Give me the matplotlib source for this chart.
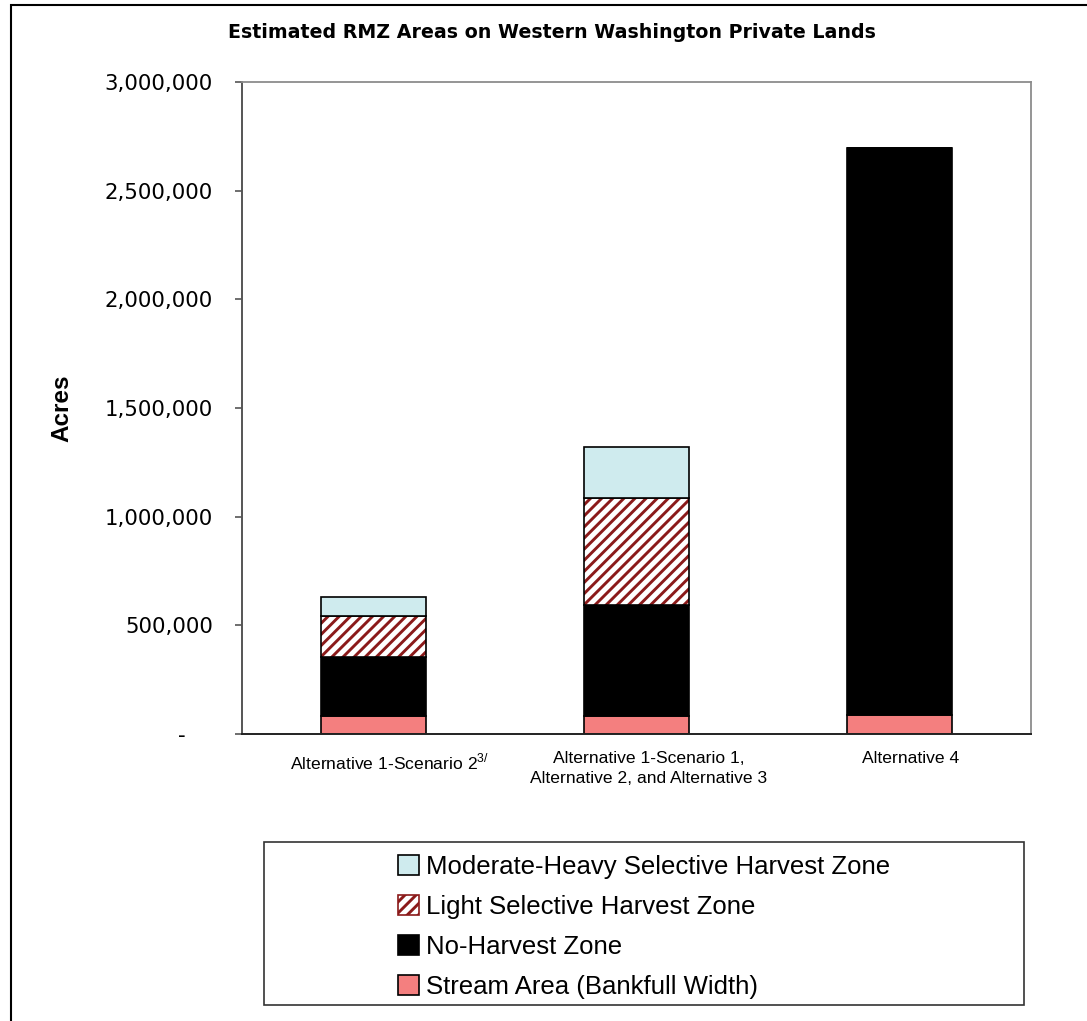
import matplotlib
matplotlib.use("Agg")
import matplotlib.pyplot as plt
from matplotlib.patches import Rectangle, Patch
from matplotlib.transforms import ScaledTranslation
import numpy as np

# Estimated riparian management zone areas (acres) by alternative
categories = [
    r"Alternative 1-Scenario 2$^{\mathrm{3/}}$",
    "Alternative 1-Scenario 1,\nAlternative 2, and Alternative 3",
    "Alternative 4",
]
stream_area = [83000, 83000, 87000]
no_harvest = [270000, 509000, 2608000]
light_selective = [191000, 495000, 0]
moderate_heavy = [88000, 232000, 0]

y_ticks = [0, 500000, 1000000, 1500000, 2000000, 2500000, 3000000]
y_tick_labels = ["-    ", "500,000", "1,000,000", "1,500,000", "2,000,000",
                 "2,500,000", "3,000,000"]

plt.rcParams["mathtext.fontset"] = "custom"
plt.rcParams["mathtext.rm"] = "Liberation Sans"
plt.rcParams["hatch.linewidth"] = 2.1

W, H = 1087, 1021
fig = plt.figure(figsize=(W / 100, H / 100), dpi=100)
fig.patch.set_facecolor("white")

ax = fig.add_axes([242 / W, 1 - 734 / H, (1031 - 242) / W, (734 - 82) / H])

x = np.arange(len(categories))
bw = 0.40
edge = dict(edgecolor="black", linewidth=1.2)

s_col = "#F47F7F"
n_col = "#000000"
m_col = "#CFEBEE"
hatch_col = "#8B1A1A"
hatch_pat = "///"

b0 = np.zeros(len(categories))
ax.bar(x, stream_area, bw, bottom=b0, color=s_col, **edge)
b1 = b0 + np.array(stream_area)
ax.bar(x, no_harvest, bw, bottom=b1, color=n_col, **edge)
b2 = b1 + np.array(no_harvest)
# hatched layer: stripes in dark red, then a black outline on top
ax.bar(x, light_selective, bw, bottom=b2, facecolor="white",
       edgecolor=hatch_col, hatch=hatch_pat, linewidth=0)
ax.bar(x, light_selective, bw, bottom=b2, fill=False, **edge)
b3 = b2 + np.array(light_selective)
ax.bar(x, moderate_heavy, bw, bottom=b3, color=m_col, **edge)

ax.set_xlim(-0.5, len(categories) - 0.5)
ax.set_ylim(0, 3000000)
ax.set_yticks(y_ticks)
ax.set_yticklabels(y_tick_labels, fontfamily="DejaVu Sans", fontsize=15.3)
ax.tick_params(axis="y", length=5, width=1.2, color="#555555", pad=16)
ax.set_xticks(x)
ax.set_xticklabels(categories, fontfamily="Liberation Sans", fontsize=12.6,
                   linespacing=1.4)
ax.tick_params(axis="x", length=0, pad=12.5)
for lab, dx in zip(ax.get_xticklabels(), [16, 12, 11]):
    lab.set_transform(lab.get_transform() +
                      ScaledTranslation(dx / 100, 0, fig.dpi_scale_trans))

for side in ["top", "right"]:
    ax.spines[side].set_color("#8C8C8C")
    ax.spines[side].set_linewidth(1.3)
ax.spines["left"].set_color("#555555")
ax.spines["left"].set_linewidth(1.4)
ax.spines["bottom"].set_color("#222222")
ax.spines["bottom"].set_linewidth(1.4)

ax.set_ylabel("Acres", fontfamily="Liberation Sans", fontweight="bold",
              fontsize=17.5)
ax.yaxis.set_label_coords(73 / W, 1 - 408 / H, transform=fig.transFigure)

fig.text(552 / W, 1 - 33 / H,
         "Estimated RMZ Areas on Western Washington Private Lands",
         ha="center", va="center", fontfamily="DejaVu Sans",
         fontweight="bold", fontsize=13.7)

# Outer chart border
fig.patches.append(Rectangle((11 / W, -0.05), 1.1, 1 - 5 / H + 0.05,
                             transform=fig.transFigure, fill=False,
                             edgecolor="black", linewidth=1.5))

# Legend frame and entries
fig.patches.append(Rectangle((264 / W, 1 - 1005 / H), (1024 - 264) / W,
                             (1005 - 842) / H, transform=fig.transFigure,
                             fill=False, edgecolor="#333333", linewidth=1.2))
handles = [
    Patch(facecolor=m_col, edgecolor="black", linewidth=1.2),
    Patch(facecolor="white", edgecolor=hatch_col, hatch="///", linewidth=1.2),
    Patch(facecolor=n_col, edgecolor="black", linewidth=1.2),
    Patch(facecolor=s_col, edgecolor="black", linewidth=1.2),
]
labels = ["Moderate-Heavy Selective Harvest Zone",
          "Light Selective Harvest Zone",
          "No-Harvest Zone",
          "Stream Area (Bankfull Width)"]
leg = fig.legend(handles, labels, loc="center",
                 bbox_to_anchor=(644 / W, 1 - 927 / H),
                 frameon=False, prop={"family": "Liberation Sans", "size": 18.5},
                 handlelength=0.82, handleheight=0.82, handletextpad=0.28,
                 labelspacing=0.63, borderpad=0)

fig.savefig("out.png", dpi=100, facecolor="white")
